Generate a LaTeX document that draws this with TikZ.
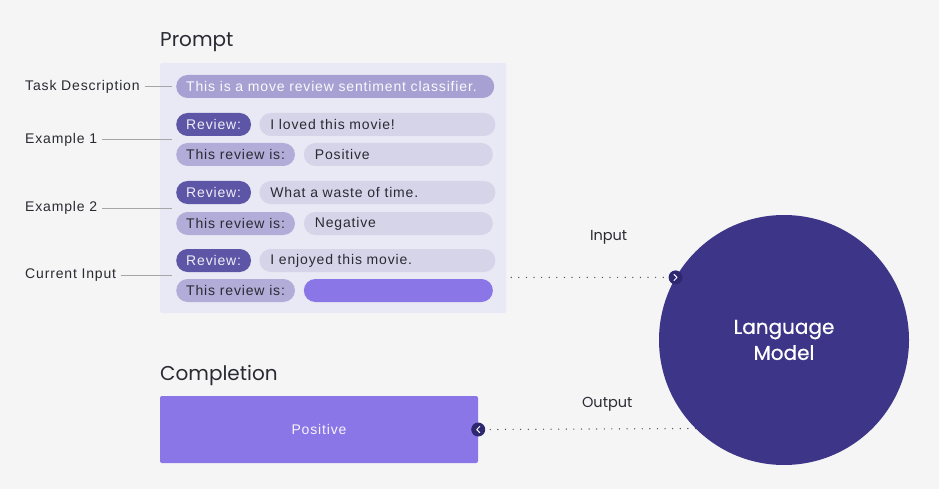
\documentclass[tikz,border=0pt]{standalone}
\usepackage{fontspec}
\newfontfamily\pillfont{Liberation Sans}[LetterSpace=6]
\newfontfamily\headfont{Poppins}
\newfontfamily\modelfont{Poppins}[FakeBold=0.7]
\usetikzlibrary{positioning, calc}
\definecolor{page_grey}{HTML}{F5F5F5}
\definecolor{panel_lilac}{HTML}{E9E8F5}
\definecolor{task_purple}{HTML}{A6A1D2}
\definecolor{review_purple}{HTML}{5D55A6}
\definecolor{key_purple}{HTML}{B1ADD8}
\definecolor{value_lilac}{HTML}{D6D4E9}
\definecolor{bright_purple}{HTML}{8A76E6}
\definecolor{model_indigo}{HTML}{3D3587}
\definecolor{tip_indigo}{HTML}{2E2870}
\definecolor{ink_grey}{HTML}{2A2A33}
\tikzset{
  pill/.style={rounded corners=11.5pt, minimum height=23pt, inner xsep=10pt, inner ysep=0pt, anchor=west, font=\pillfont\fontsize{14}{16}\selectfont},
  taskpill/.style={pill, fill=task_purple, text=white!94!task_purple},
  reviewpill/.style={pill, fill=review_purple, text=white!90!review_purple},
  keypill/.style={pill, fill=key_purple, text=ink_grey},
  valuepill/.style={pill, inner xsep=11pt, fill=value_lilac, text=ink_grey, text width=#1, align=left},
  sidelabel/.style={anchor=west, inner sep=0pt, text=ink_grey, font=\pillfont\fontsize{14}{16}\selectfont},
  leader/.style={draw=black!35, line width=0.8pt},
  title/.style={anchor=base west, inner sep=0pt, text=ink_grey, font=\headfont\fontsize{20}{24}\selectfont},
  dotline/.style={draw=black!70, line width=1.4pt, line cap=round, dash pattern=on 0pt off 7.6pt},
  tipdot/.style={circle, fill=tip_indigo, minimum size=14pt, inner sep=0pt},
  chevron/.style={draw=white, line width=1pt, line cap=round, line join=round},
  wirelabel/.style={text=ink_grey, font=\headfont\fontsize{14.5}{17}\selectfont}
}
\begin{document}
\begin{tikzpicture}[x=1pt, y=-1pt]
  \fill[page_grey] (0,0) rectangle (939,489);
  \useasboundingbox (0,0) rectangle (939,489);
  \coordinate (lx) at (25,0);

  \node[title] (promptTitle) at (160,47) {Prompt};
  \node[fill=panel_lilac, rounded corners=2pt, minimum width=346pt, minimum height=250pt] (prompt) at (333,188) {};

  \node[taskpill, text width=298pt] (task) at (176,86.5) {This is a move review sentiment classifier.};

  \node[reviewpill] (r1) at (176,124.5) {Review:};
  \node[valuepill=214pt, right=8pt of r1] (v1) {I loved this movie!};
  \node[keypill] (t1) at (176,154.5) {This review is:};
  \node[valuepill=167pt, right=8.5pt of t1] (a1) {Positive};

  \node[reviewpill] (r2) at (176,192.5) {Review:};
  \node[valuepill=214pt, right=8pt of r2] (v2) {What a waste of time.};
  \node[keypill] (t2) at (176,223.5) {This review is:};
  \node[valuepill=167pt, right=8.5pt of t2] (a2) {Negative};

  \node[reviewpill] (r3) at (176,260.5) {Review:};
  \node[valuepill=214pt, right=8pt of r3] (v3) {I enjoyed this movie.};
  \node[keypill] (t3) at (176,290.5) {This review is:};
  \node[valuepill=167pt, fill=bright_purple, right=8.5pt of t3] (a3) {};

  \coordinate (ex1) at ($(r1.west)!.5!(t1.west)$);
  \coordinate (ex2) at ($(r2.west)!.5!(t2.west)$);
  \coordinate (cur) at ($(r3.west)!.5!(t3.west)$);
  \node[sidelabel] (lblTask) at (task.west -| lx) {Task Description};
  \node[sidelabel] (lblEx1) at (ex1 -| lx) {Example 1};
  \node[sidelabel] (lblEx2) at (ex2 -| lx) {Example 2};
  \node[sidelabel] (lblCur) at (cur -| lx) {Current Input};
  \draw[leader] ([xshift=5pt]lblTask.east) -- ([xshift=-4pt]task.west);
  \draw[leader] ([xshift=5pt]lblEx1.east) -- ([xshift=-4pt]ex1);
  \draw[leader] ([xshift=5pt]lblEx2.east) -- ([xshift=-4pt]ex2);
  \draw[leader] ([xshift=5pt]lblCur.east) -- ([xshift=-4pt]cur);

  \node[title] (compTitle) at (160,380) {Completion};
  \node[fill=bright_purple, rounded corners=2pt, minimum width=318pt, minimum height=67pt, text=white!92!bright_purple, font=\pillfont\fontsize{14}{16}\selectfont] (completion) at (319,429.5) {Positive};

  \node[circle, fill=model_indigo, minimum size=250pt, inner sep=0pt, align=center, text=white, font=\modelfont\fontsize{20}{26}\selectfont] (lm) at (784,340) {Language\\Model};

  \node[tipdot] (inTip) at (lm.150) {};
  \coordinate (inStart) at (prompt.east |- inTip);
  \draw[dotline] ([xshift=5pt]inStart) -- (inTip.west) node[wirelabel, pos=.62, yshift=40pt] {Input};
  \draw[chevron] ([xshift=-1.5pt,yshift=3pt]inTip.center) -- ([xshift=1.5pt]inTip.center) -- ([xshift=-1.5pt,yshift=-3pt]inTip.center);

  \node[tipdot] (outTip) at (completion.east) {};
  \draw[dotline] (lm.225) -- (outTip.east) node[wirelabel, pos=.42, yshift=25pt] {Output};
  \draw[chevron] ([xshift=1.5pt,yshift=3pt]outTip.center) -- ([xshift=-1.5pt]outTip.center) -- ([xshift=1.5pt,yshift=-3pt]outTip.center);
\end{tikzpicture}
\end{document}
